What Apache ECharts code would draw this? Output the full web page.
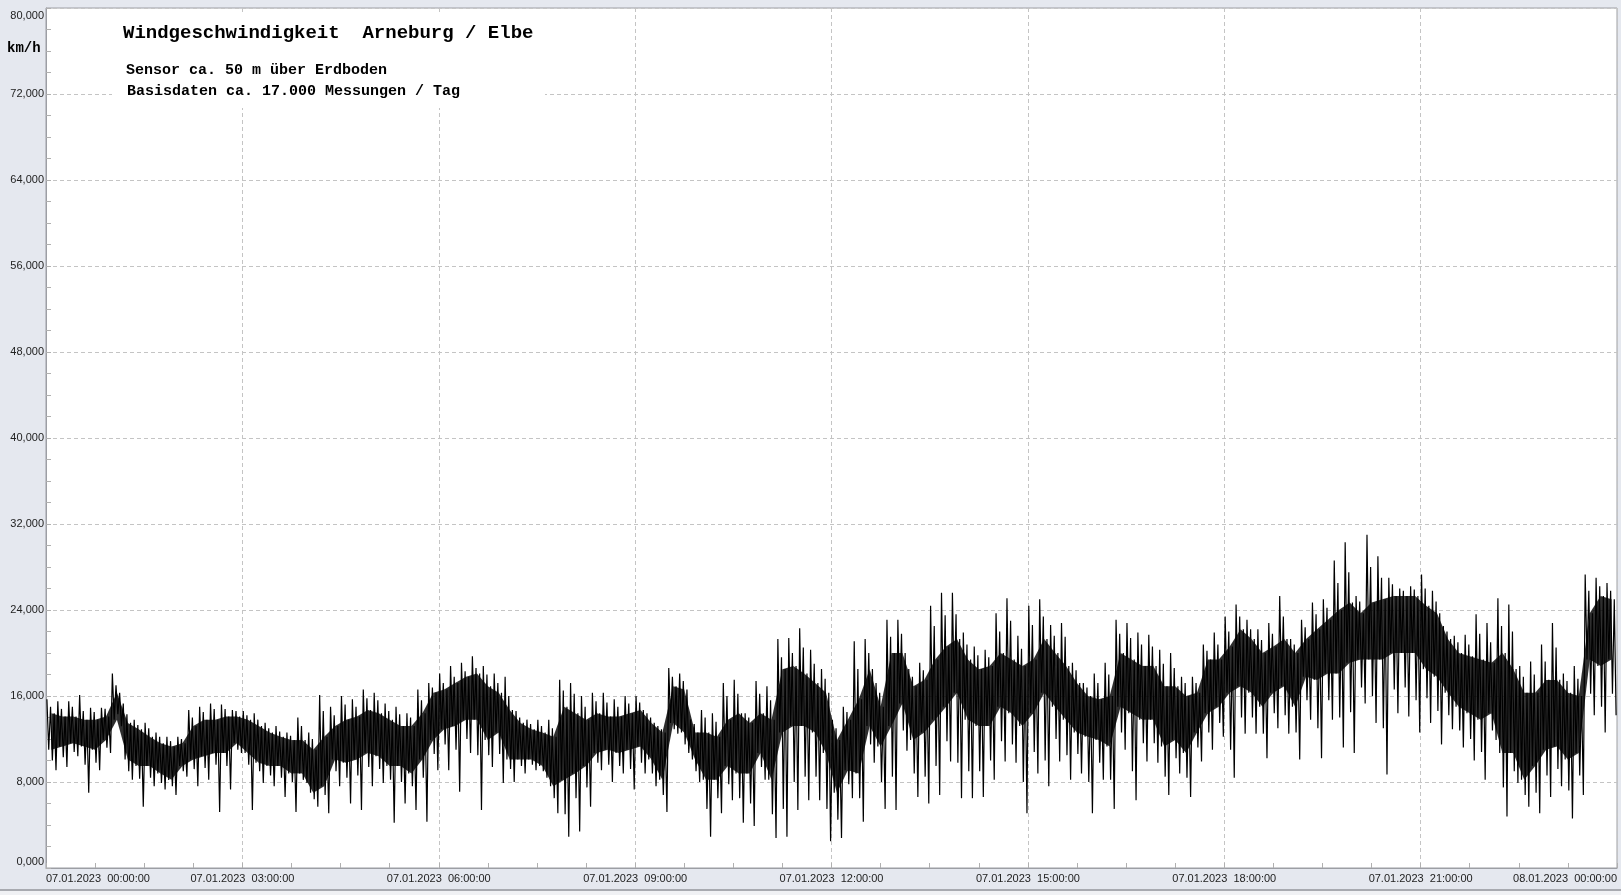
<!DOCTYPE html>
<html>
<head>
<meta charset="utf-8">
<script src="https://cdn.jsdelivr.net/npm/echarts@6/dist/echarts.min.js"></script>
<style>
html,body{margin:0;padding:0;background:#e5e8ef;}
#c{width:1621px;height:895px;}
</style>
</head>
<body>
<div id="c"></div>
<script>
// ---- data (km/h), one entry per 10-minute slot, 07.01.2023 00:00 -> 08.01.2023 00:00 ----
// highest spike in the slot
const slotHi = [
15.7,15.5,15.5,16.1,14.9,14.9,18.1,15.3,13.8,13.5,12.6,12.2,12.2,14.7,15.0,15.3,15.2,14.7,14.6,14.4,13.5,13.2,12.6,14.0,12.6,16.1,15.0,16.0,15.7,16.6,16.3,15.3,15.0,14.4,16.6,17.2,
18.1,18.8,19.1,19.7,18.8,18.1,17.8,14.6,13.8,13.8,13.8,17.5,17.2,16.0,16.3,16.3,15.7,16.0,16.0,14.4,13.2,18.6,18.1,13.8,14.7,14.4,17.2,17.5,14.4,17.4,16.9,21.3,21.4,22.3,20.3,18.5,
13.8,15.0,21.1,21.3,17.2,23.1,23.1,18.5,19.1,24.4,25.6,25.6,21.9,20.6,20.3,23.7,25.1,21.6,24.4,25.0,22.6,22.8,19.1,17.2,18.1,19.1,23.1,22.8,21.9,21.7,20.3,20.0,17.8,17.8,20.8,21.9,
23.4,24.5,23.1,22.2,22.8,25.3,21.3,23.1,24.7,25.0,28.6,30.3,25.3,31.0,29.0,27.0,26.0,26.2,27.3,25.8,22.5,21.6,21.7,23.6,22.8,25.1,24.5,18.8,19.2,20.8,22.8,18.1,18.8,27.3,27.0,26.5
];
// lowest spike in the slot
const slotLo = [
9.1,9.4,10.4,7.0,9.1,10.7,13.2,8.2,5.7,7.6,7.3,6.8,8.5,7.6,8.2,5.2,7.3,10.7,5.4,7.9,7.6,6.6,5.2,7.9,5.7,5.1,7.6,6.0,5.4,7.6,7.9,4.2,6.0,5.4,4.3,9.1,
9.1,7.1,10.7,5.4,9.4,7.9,8.0,8.8,9.1,8.4,5.1,2.9,3.4,5.7,9.1,8.0,8.8,7.3,8.8,7.6,5.2,12.5,10.7,8.0,2.9,5.1,6.3,4.2,3.9,8.2,2.8,2.9,5.4,6.3,6.3,2.5,
2.8,6.5,4.3,9.8,5.5,5.4,10.9,6.6,6.0,6.8,9.9,6.5,6.5,6.6,8.2,9.9,9.8,5.1,8.8,7.6,9.9,8.2,8.8,5.1,8.2,5.5,11.0,6.3,9.9,9.8,6.8,8.8,6.6,9.9,11.0,12.2,
8.4,12.5,12.5,10.2,13.0,12.5,10.1,13.8,10.2,13.8,11.2,10.7,15.3,13.5,8.7,14.4,14.1,12.6,13.5,11.5,12.9,11.2,10.0,8.2,11.9,4.8,7.9,5.7,5.1,6.6,7.6,4.6,6.8,14.2,12.6,14.2
];
// second-highest spike in the slot
const slotHi2 = [
15.0,14.8,15.0,14.6,14.5,14.8,17.0,14.3,13.3,13.0,12.2,11.8,12.0,14.0,14.5,14.8,14.8,14.6,14.2,13.8,13.0,12.7,12.3,13.2,12.0,14.6,14.2,15.2,15.0,15.8,15.6,14.6,14.3,14.0,15.6,16.8,
17.2,17.8,18.3,18.6,18.0,17.2,16.0,14.0,13.4,13.2,13.0,16.5,16.2,15.0,15.5,15.4,15.0,15.3,15.4,14.0,12.9,17.8,17.4,13.4,14.0,13.6,16.0,16.2,14.0,16.2,15.6,19.6,20.0,20.5,19.0,17.6,
13.0,14.5,18.5,20.0,16.3,21.5,21.8,17.8,18.4,22.5,23.5,23.6,20.8,19.8,19.6,22.0,23.0,20.4,22.6,23.4,21.6,21.5,18.4,16.8,17.2,18.0,21.8,21.4,20.8,20.6,19.0,18.6,17.2,17.2,20.2,20.8,
22.0,23.4,22.2,21.2,21.8,23.4,20.8,22.4,23.6,24.2,26.5,27.5,24.8,28.0,27.0,26.4,25.8,25.9,26.0,24.8,22.0,21.0,20.8,21.8,21.0,22.5,22.0,17.8,18.0,19.2,20.5,17.4,17.6,25.8,26.2,25.8
];
// second-lowest spike in the slot
const slotLo2 = [
10.0,10.3,10.8,9.6,9.8,11.2,14.3,9.0,8.3,8.4,7.9,7.6,9.0,9.2,9.3,9.6,9.5,11.0,9.6,9.0,8.6,8.4,8.0,8.2,6.4,6.8,9.0,8.4,8.6,9.4,9.2,8.2,8.0,7.6,8.4,10.6,
11.5,11.0,12.0,10.5,10.5,10.6,9.2,9.5,9.6,9.0,6.5,5.0,6.5,7.5,9.8,9.6,9.5,9.2,9.8,8.8,6.8,12.9,11.5,9.0,5.5,6.5,7.8,6.5,6.0,9.4,5.0,5.5,8.0,8.5,8.5,5.5,
4.5,7.8,6.5,11.5,8.0,8.5,12.8,8.8,8.5,9.5,11.8,9.8,9.0,9.0,10.0,11.8,11.5,8.0,10.8,10.0,12.0,10.5,10.6,8.0,9.8,8.2,12.6,9.0,11.6,11.6,8.5,10.2,8.4,11.2,12.6,13.5,
11.0,14.0,14.0,12.5,14.4,14.2,12.6,15.6,13.0,15.6,14.0,14.5,16.8,16.0,13.0,16.6,16.8,15.6,15.8,14.6,14.2,12.8,12.0,10.8,12.8,7.5,9.0,6.8,7.0,8.6,9.2,7.2,8.6,16.2,15.0,16.2
];
// dense core of the trace (upper / lower edge)
const coreHi = [
14.4,14.1,14.1,13.8,13.8,14.1,16.3,13.5,12.9,12.2,11.6,11.3,11.6,13.2,13.8,13.8,14.1,14.1,13.8,13.2,12.6,12.2,11.9,11.9,11.0,12.2,13.2,13.8,14.1,14.7,14.4,13.8,13.2,13.2,14.4,16.3,
16.6,17.2,17.8,18.1,16.9,16.3,14.7,13.5,12.9,12.6,12.2,15.0,14.4,13.8,14.4,14.1,14.1,14.4,14.7,13.5,12.6,16.9,16.6,12.6,12.6,12.2,13.8,14.4,13.5,14.4,13.8,18.5,18.8,18.1,17.2,16.3,
11.9,13.8,15.7,18.5,15.0,20.0,20.0,16.9,17.5,19.4,20.6,21.3,19.4,18.5,18.8,20.0,19.4,18.8,19.4,21.3,20.0,18.8,17.2,16.0,15.7,16.0,20.0,19.4,18.8,18.8,16.9,16.9,16.0,16.3,19.4,19.4,
20.6,22.2,21.3,20.0,20.6,21.3,20.0,21.3,22.2,23.1,24.0,24.7,23.7,24.7,25.0,25.3,25.3,25.3,24.4,23.7,21.3,20.0,19.7,19.4,19.1,20.0,18.5,16.3,16.3,17.5,17.5,16.3,16.0,23.7,25.3,25.0
];
const coreLo = [
11.0,11.3,11.6,11.3,11.0,11.9,13.8,10.1,9.5,9.5,8.8,8.2,9.5,10.1,10.4,10.7,10.7,11.6,10.7,9.8,9.5,9.5,8.8,8.8,7.0,7.6,10.1,9.8,10.1,10.7,10.4,9.5,9.5,8.8,10.1,11.9,
12.9,13.2,13.8,13.8,11.9,12.6,10.1,10.1,10.1,9.5,7.6,8.2,8.8,9.5,10.7,11.0,10.7,11.0,11.3,10.1,8.2,13.5,12.6,10.1,8.2,8.2,9.5,8.8,8.8,10.7,8.2,12.6,13.2,13.2,12.6,10.7,
7.0,9.1,8.8,13.2,11.3,13.2,15.3,11.9,12.6,13.8,15.0,16.3,13.8,13.2,13.2,15.0,14.4,13.2,14.4,16.3,15.0,13.8,12.6,12.2,11.9,11.3,15.0,14.4,13.8,13.8,11.3,11.9,10.7,12.6,14.4,15.0,
16.3,16.9,16.3,15.0,16.3,16.9,15.0,17.8,17.5,18.1,18.1,19.1,19.4,19.4,19.4,20.0,20.0,20.0,18.5,17.8,16.3,15.0,14.4,13.8,14.4,10.7,10.7,8.2,9.5,11.0,11.3,10.1,10.7,19.4,18.8,19.4
];
const yTickLabels = ['0,000','8,000','16,000','24,000','32,000','40,000','48,000','56,000','64,000','72,000','80,000'];
const xTickLabels = ['07.01.2023  00:00:00','07.01.2023  03:00:00','07.01.2023  06:00:00','07.01.2023  09:00:00',
  '07.01.2023  12:00:00','07.01.2023  15:00:00','07.01.2023  18:00:00','07.01.2023  21:00:00','08.01.2023  00:00:00'];
const titleText = 'Windgeschwindigkeit  Arneburg / Elbe';
const subText1 = 'Sensor ca. 50 m über Erdboden';
const subText2 = 'Basisdaten ca. 17.000 Messungen / Tag';
const unitText = 'km/h';

// ---- build series data from the arrays ----
const SLOTS_PER_HOUR = 6;
const trace = [];
for (let i = 0; i < slotHi.length; i++) {
  const seq = [slotHi[i], coreLo[i], slotHi2[i], slotLo2[i], coreHi[i], slotLo[i]];
  seq.forEach((v, k) => trace.push([(i + (k + 0.5) / seq.length) / SLOTS_PER_HOUR, v]));
}
const band = coreLo.map((v, i) => [(i + 0.5) / SLOTS_PER_HOUR, v, coreHi[i]]);

const chart = echarts.init(document.getElementById('c'), null, {renderer: 'canvas'});
const FF = 'Liberation Sans, Arial, sans-serif';
const labelFont = {fontFamily: FF, fontSize: 11, color: '#222'};
const mono = 'Liberation Mono, Courier New, monospace';

chart.setOption({
  backgroundColor: '#e5e8ef',
  animation: false,
  grid: {left: 46, right: 4, top: 8, bottom: 27, show: true, backgroundColor: '#ffffff', borderColor: '#9c9ea4', borderWidth: 1},
  xAxis: {
    type: 'value', min: 0, max: 24, interval: 3,
    axisLine: {show: true, lineStyle: {color: '#9c9ea4'}},
    axisTick: {show: true, inside: true, length: 5, lineStyle: {color: '#b0b0b0'}},
    minorTick: {show: true, splitNumber: 4, length: 5, lineStyle: {color: '#b0b0b0'}},
    splitLine: {show: true, lineStyle: {color: '#c4c4c4', type: [4, 3], width: 1}},
    axisLabel: Object.assign({margin: 5, formatter: v => xTickLabels[Math.round(v / 3)] || '',
      alignMinLabel: 'left', alignMaxLabel: 'right'}, labelFont)
  },
  yAxis: {
    type: 'value', min: 0, max: 80, interval: 8,
    axisLine: {show: true, lineStyle: {color: '#9c9ea4'}},
    axisTick: {show: true, inside: true, length: 5, lineStyle: {color: '#b0b0b0'}},
    minorTick: {show: true, splitNumber: 4, length: 5, lineStyle: {color: '#b0b0b0'}},
    splitLine: {show: true, lineStyle: {color: '#c4c4c4', type: [4, 3], width: 1}},
    axisLabel: Object.assign({
      margin: 2,
      formatter: v => {
        const idx = Math.round(v / 8);
        const t = yTickLabels[idx] || '';
        if (idx === yTickLabels.length - 1) return '{top|' + t + '}';
        if (idx === 0) return '{bot|' + t + '}';
        return t;
      },
      rich: {
        top: {fontFamily: FF, fontSize: 11, color: '#222', padding: [15, 0, 0, 0]},
        bot: {fontFamily: FF, fontSize: 11, color: '#222', padding: [0, 0, 12, 0]}
      }
    }, labelFont)
  },
  series: [
    {
      type: 'custom',
      data: band,
      z: 3,
      silent: true,
      renderItem: function (params, api) {
        const i = params.dataIndex;
        if (i >= band.length - 1) return null;
        const a = band[i], b = band[i + 1];
        const p1 = api.coord([a[0], a[1]]);
        const p2 = api.coord([b[0], b[1]]);
        const p3 = api.coord([b[0], b[2]]);
        const p4 = api.coord([a[0], a[2]]);
        return {type: 'polygon', shape: {points: [p1, p2, p3, p4]}, style: {fill: '#000', opacity: 0.82}};
      }
    },
    {
      type: 'line',
      data: trace,
      z: 4,
      symbol: 'none',
      sampling: null,
      silent: true,
      lineStyle: {color: '#000', width: 1.2}
    }
  ],
  graphic: [
    {type: 'rect', z: 100, shape: {x: 112, y: 12, width: 433, height: 96}, style: {fill: '#ffffff'}},
    {type: 'text', z: 101, left: 123, top: 24, style: {text: titleText, font: 'bold 19px ' + mono, fill: '#000'}},
    {type: 'text', z: 101, left: 126, top: 63, style: {text: subText1, font: 'bold 15px ' + mono, fill: '#000'}},
    {type: 'text', z: 101, left: 127, top: 84, style: {text: subText2, font: 'bold 15px ' + mono, fill: '#000'}},
    {type: 'text', z: 101, left: 7, top: 41, style: {text: unitText, font: 'bold 14px ' + mono, fill: '#000'}},
    {type: 'rect', z: 100, shape: {x: 0, y: 890, width: 1621, height: 5}, style: {fill: '#f0f1f4'}},
    {type: 'rect', z: 100, shape: {x: 0, y: 889, width: 1621, height: 2}, style: {fill: '#a8aab0'}}
  ]
});
</script>
</body>
</html>
